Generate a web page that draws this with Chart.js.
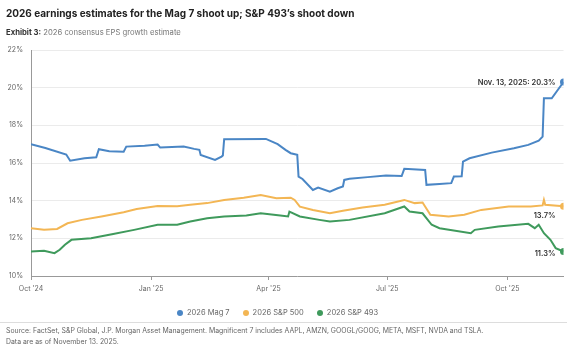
<!DOCTYPE html>
<html>
<head>
<meta charset="utf-8">
<script src="https://cdn.jsdelivr.net/npm/chart.js@4.4.1/dist/chart.umd.min.js"></script>
<style>
  html, body { margin: 0; padding: 0; background: #fff; }
  #wrap { position: relative; width: 567px; height: 344px; overflow: hidden;
          font-family: Inter, "Noto Sans", "DejaVu Sans", sans-serif; }
  #chart { position: absolute; left: 0; top: 0; }
  .title { position: absolute; left: 6px; top: 7px; font-size: 10px; font-weight: 700;
           color: #222; white-space: nowrap; }
  .sub { position: absolute; left: 6px; top: 28px; font-size: 7.7px; color: #777; white-space: nowrap; }
  .sub b { color: #333; font-weight: 700; }
  .legend { position: absolute; left: 177px; top: 308px; font-size: 7.5px; color: #666;
            display: flex; gap: 13px; white-space: nowrap; }
  .legend span { display: inline-flex; align-items: center; }
  .legend i { display: inline-block; width: 6px; height: 6px; border-radius: 50%; margin-right: 4px; }
  .rule { position: absolute; left: 0; top: 322px; width: 567px; height: 1px; background: #ddd; }
  .src { position: absolute; left: 6px; top: 325px; font-size: 6.9px; line-height: 11px; color: #666; white-space: nowrap; }
</style>
</head>
<body>
<div id="wrap">
  <canvas id="chart" width="567" height="344"></canvas>
  <div class="title">2026 earnings estimates for the Mag 7 shoot up; S&amp;P 493’s shoot down</div>
  <div class="sub"><b>Exhibit 3:</b> 2026 consensus EPS growth estimate</div>
  <div class="legend" id="legend"></div>
  <div class="rule"></div>
  <div class="src">Source: FactSet, S&amp;P Global, J.P. Morgan Asset Management. Magnificent 7 includes AAPL, AMZN, GOOGL/GOOG, META, MSFT, NVDA and TSLA.<br>Data are as of November 13, 2025.</div>
</div>
<script>
// Days counted from 1 Oct 2024; values are 2026 consensus EPS growth, %.
const mag7Day = [0, 11, 27, 30, 41, 50, 52, 60, 71, 73, 87, 97, 99, 117, 125, 129, 130, 141, 146, 147, 148,
  180, 189, 195, 199, 204, 205, 208, 216, 220, 229, 235, 239, 240, 244, 258, 272, 284, 286, 302, 303,
  313, 322, 324, 330, 331, 336, 353, 370, 381, 389, 392, 393, 399, 408];
const mag7 = [17.0, 16.8, 16.45, 16.12, 16.25, 16.3, 16.73, 16.62, 16.6, 16.87, 16.92, 16.98, 16.82, 16.87, 16.75, 16.7, 16.43, 16.16, 16.34, 16.4, 17.26,
  17.28, 17.0, 16.7, 16.52, 16.43, 15.28, 15.15, 14.57, 14.7, 14.48, 14.66, 14.75, 15.1, 15.16, 15.25, 15.33, 15.31, 15.69, 15.63, 14.84,
  14.89, 14.93, 15.28, 15.3, 16.07, 16.25, 16.55, 16.78, 16.96, 17.19, 17.4, 19.44, 19.44, 20.3];

const sp500Day = [0, 10, 20, 28, 39, 54, 71, 81, 97, 112, 122, 135, 148, 163, 176, 188, 199, 202, 206, 216,
  229, 239, 254, 271, 286, 294, 300, 306, 320, 332, 345, 366, 383, 392, 393, 394, 408];
const sp500 = [12.54, 12.45, 12.5, 12.8, 12.98, 13.16, 13.39, 13.56, 13.72, 13.7, 13.78, 13.87, 14.04, 14.16, 14.3, 14.13, 14.16, 14.04, 13.68, 13.5,
  13.33, 13.46, 13.64, 13.78, 14.04, 13.87, 13.9, 13.25, 13.16, 13.25, 13.51, 13.69, 13.69, 13.75, 14.04, 13.78, 13.7];

const sp493Day = [0, 10, 18, 22, 26, 31, 46, 62, 79, 97, 112, 122, 135, 148, 165, 176, 191, 197, 198, 206,
  221, 229, 244, 271, 286, 290, 300, 307, 313, 337, 340, 358, 381, 386, 389, 393, 398, 402, 408];
const sp493 = [11.3, 11.34, 11.21, 11.39, 11.66, 11.92, 12.01, 12.22, 12.45, 12.72, 12.72, 12.89, 13.07, 13.16, 13.21, 13.33, 13.21, 13.16, 13.42, 13.16,
  12.98, 12.89, 12.98, 13.33, 13.69, 13.42, 13.33, 12.72, 12.54, 12.27, 12.45, 12.63, 12.77, 12.54, 12.72, 12.27, 11.92, 11.48, 11.3];

const seriesNames = ['2026 Mag 7', '2026 S&P 500', '2026 S&P 493'];
const seriesColors = ['#4a86c5', '#f3b654', '#3f9a5c'];

const tickDays = [0, 92, 182, 273, 365];
const tickLabels = ["Oct '24", "Jan '25", "Apr '25", "Jul '25", "Oct '25"];
const yTicks = [10, 12, 14, 16, 18, 20, 22];

const endLabels = ['Nov. 13, 2025: 20.3%', '13.7%', '11.3%'];

function toPoints(days, vals) { return days.map((d, i) => ({ x: d, y: vals[i] })); }

const seriesData = [toPoints(mag7Day, mag7), toPoints(sp500Day, sp500), toPoints(sp493Day, sp493)];

const datasets = seriesData.map((pts, k) => ({
  label: seriesNames[k],
  data: pts,
  borderColor: seriesColors[k],
  backgroundColor: seriesColors[k],
  borderWidth: 2,
  tension: 0,
  pointRadius: ctx => ctx.dataIndex === pts.length - 1 ? 3.5 : 0,
  pointBorderWidth: 0,
  pointHoverRadius: 0,
  order: 3 - k
}));

// Value captions beside the last point of each line
const endCaptions = {
  id: 'endCaptions',
  afterDatasetsDraw(chart) {
    const { ctx, scales: { x, y } } = chart;
    const offsets = [[-8, 1], [-8, 9], [-8, 2]];
    ctx.save();
    ctx.font = '600 7.5px Inter, "Noto Sans", sans-serif';
    ctx.fillStyle = '#333';
    ctx.textAlign = 'right';
    ctx.textBaseline = 'middle';
    seriesData.forEach((pts, k) => {
      const p = pts[pts.length - 1];
      ctx.fillText(endLabels[k], x.getPixelForValue(p.x) + offsets[k][0], y.getPixelForValue(p.y) + offsets[k][1]);
    });
    ctx.restore();
  }
};

new Chart(document.getElementById('chart'), {
  type: 'line',
  data: { datasets },
  plugins: [endCaptions],
  options: {
    responsive: false,
    animation: false,
    events: [],
    layout: { padding: { top: 50, right: 0, bottom: 46, left: 0 } },
    plugins: { legend: { display: false }, tooltip: { enabled: false } },
    scales: {
      x: {
        type: 'linear',
        min: 0,
        max: 408,
        afterBuildTicks: s => { s.ticks = tickDays.map(v => ({ value: v })); },
        afterFit: s => { s.height = 22; },
        ticks: {
          autoSkip: false,
          maxRotation: 0,
          padding: 5,
          color: '#666',
          font: { size: 7, family: 'Inter, "Noto Sans", sans-serif' },
          callback: v => tickLabels[tickDays.indexOf(v)]
        },
        grid: { drawOnChartArea: false, tickLength: 4, color: '#999' },
        border: { color: '#999', width: 1 }
      },
      y: {
        min: 10,
        max: 22,
        afterBuildTicks: s => { s.ticks = yTicks.map(v => ({ value: v })); },
        afterFit: s => { s.width = 31; },
        ticks: {
          padding: 8,
          color: '#666',
          font: { size: 7, family: 'Inter, "Noto Sans", sans-serif' },
          callback: v => v + '%'
        },
        grid: { color: '#ebebeb', drawTicks: false },
        border: { color: '#999', width: 1 }
      }
    }
  }
});

// Legend row built from the series names and colours
document.getElementById('legend').innerHTML = seriesNames
  .map((n, k) => `<span><i style="background:${seriesColors[k]}"></i>${n.replace('&', '&amp;')}</span>`)
  .join('');
</script>
</body>
</html>
